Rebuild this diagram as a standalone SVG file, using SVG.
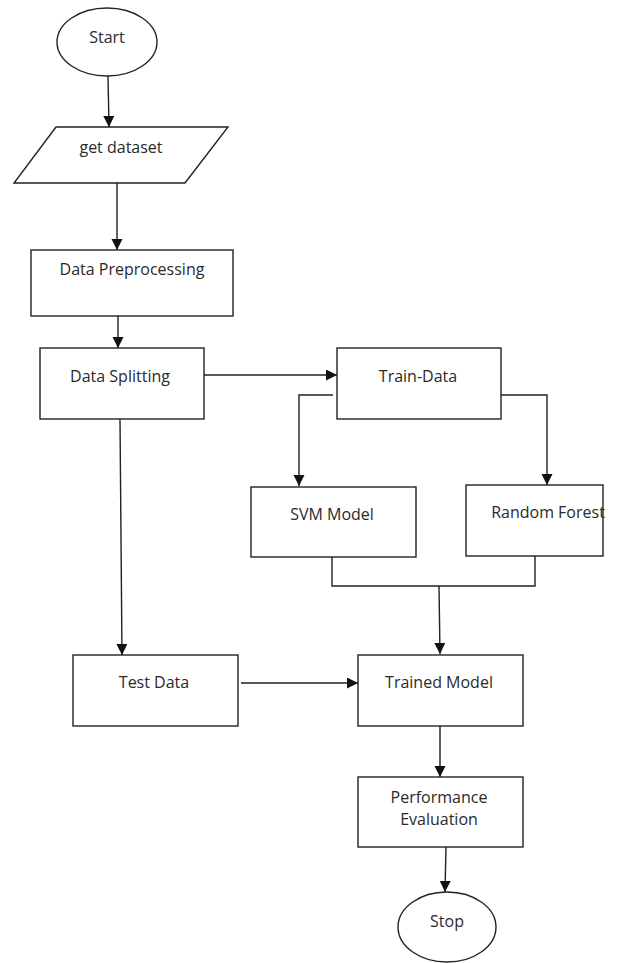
<svg xmlns="http://www.w3.org/2000/svg" width="621" height="963" viewBox="0 0 621 963">
<style>
.s{fill:#fff;stroke:#222;stroke-width:1.4}
.c{fill:none;stroke:#222;stroke-width:1.4}
.t{font-family:"Open Sans","Liberation Sans",sans-serif;font-size:16px;fill:#2a2a2a;text-anchor:middle}
</style>
<defs>
<marker id="ah" markerUnits="userSpaceOnUse" markerWidth="12" markerHeight="12" refX="11" refY="5.5" orient="auto">
<path d="M0,0 L11,5.5 L0,11 z" fill="#111"/>
</marker>
</defs>
<rect width="621" height="963" fill="#fff"/>
<g id="connectors">
<line class="c" x1="108" y1="76" x2="109" y2="127" marker-end="url(#ah)"/>
<line class="c" x1="117" y1="183" x2="117" y2="250" marker-end="url(#ah)"/>
<line class="c" x1="118" y1="316" x2="118" y2="348" marker-end="url(#ah)"/>
<line class="c" x1="204" y1="375" x2="337" y2="375" marker-end="url(#ah)"/>
<polyline class="c" points="333,395 299,395 299,486" marker-end="url(#ah)"/>
<polyline class="c" points="501,395 547,395 547,485" marker-end="url(#ah)"/>
<line class="c" x1="120" y1="419" x2="122" y2="655" marker-end="url(#ah)"/>
<polyline class="c" points="332,557 332,586 535,586 535,556"/>
<line class="c" x1="439" y1="586" x2="440" y2="654" marker-end="url(#ah)"/>
<line class="c" x1="241" y1="683" x2="358" y2="683" marker-end="url(#ah)"/>
<line class="c" x1="440" y1="726" x2="440" y2="777" marker-end="url(#ah)"/>
<line class="c" x1="446" y1="847" x2="445" y2="892" marker-end="url(#ah)"/>
</g>
<g id="start"><ellipse class="s" cx="107" cy="42" rx="50" ry="34"/><text class="t" x="107" y="43">Start</text></g>
<g id="get-dataset"><polygon class="s" points="56,127 228,127 185,183 14,183"/><text class="t" x="121" y="153">get dataset</text></g>
<g id="data-preprocessing"><rect class="s" x="31" y="250" width="202" height="66"/><text class="t" x="132" y="275">Data Preprocessing</text></g>
<g id="data-splitting"><rect class="s" x="40" y="348" width="164" height="71"/><text class="t" x="120" y="382">Data Splitting</text></g>
<g id="train-data"><rect class="s" x="337" y="348" width="164" height="71"/><text class="t" x="418" y="382">Train-Data</text></g>
<g id="svm-model"><rect class="s" x="251" y="487" width="165" height="70"/><text class="t" x="332" y="520">SVM Model</text></g>
<g id="random-forest"><rect class="s" x="466" y="485" width="137" height="71"/><text class="t" x="548" y="518">Random Forest</text></g>
<g id="test-data"><rect class="s" x="73" y="655" width="165" height="71"/><text class="t" x="154" y="688">Test Data</text></g>
<g id="trained-model"><rect class="s" x="358" y="655" width="165" height="71"/><text class="t" x="439" y="688">Trained Model</text></g>
<g id="performance-evaluation"><rect class="s" x="358" y="777" width="165" height="70"/><text class="t" x="439" y="803">Performance</text><text class="t" x="439" y="825">Evaluation</text></g>
<g id="stop"><ellipse class="s" cx="447" cy="927" rx="49" ry="35"/><text class="t" x="447" y="927">Stop</text></g>
</svg>
